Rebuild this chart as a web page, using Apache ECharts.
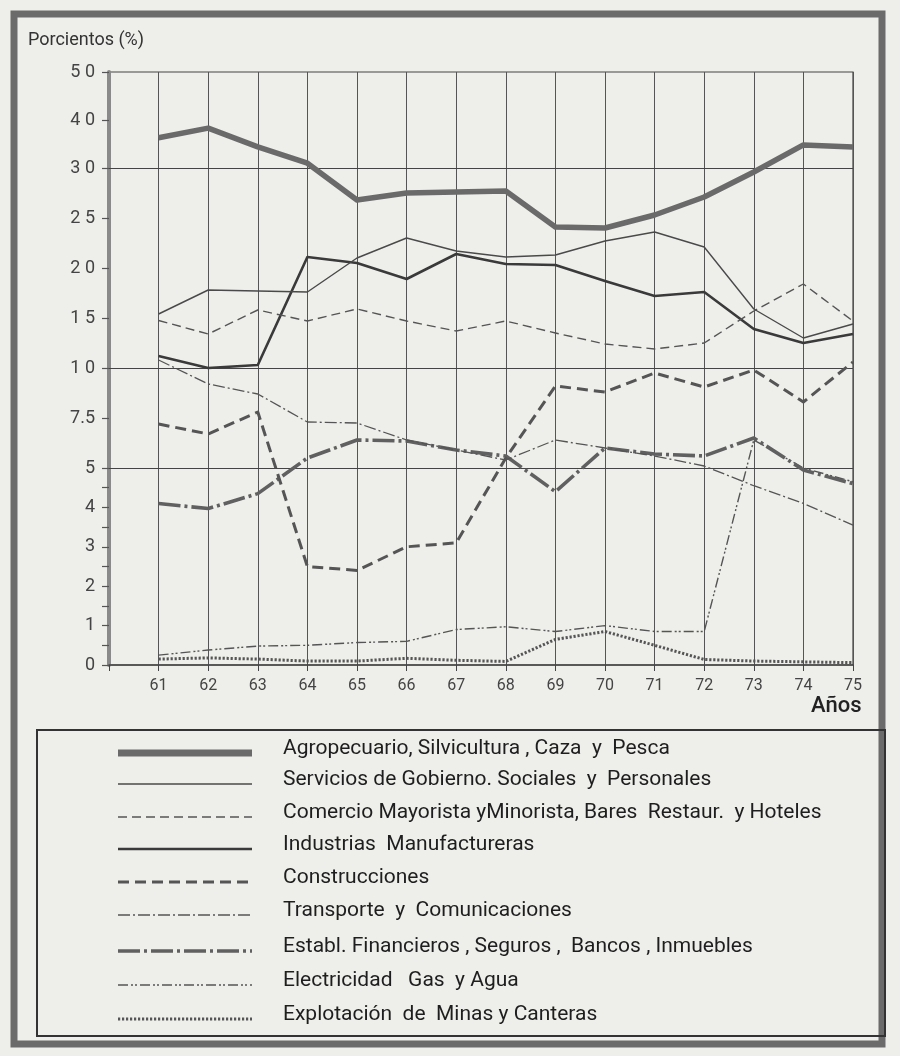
<!DOCTYPE html>
<html>
<head>
<meta charset="utf-8">
<script src="https://cdn.jsdelivr.net/npm/echarts@6/dist/echarts.min.js"></script>
<style>
html,body{margin:0;padding:0;background:#eeeeea;}
#chart{width:900px;height:1056px;}
</style>
</head>
<body>
<div id="chart"></div>
<script>
// ---- data (percent) ----
const years = [61,62,63,64,65,66,67,68,69,70,71,72,73,74,75];
const agropecuario   = [36.3,38.3,34.4,31.0,26.8,27.5,27.6,27.7,24.1,24.0,25.3,27.1,29.6,34.8,34.4];
const servicios      = [15.4,17.8,17.7,17.6,21.0,23.0,21.7,21.1,21.3,22.7,23.6,22.1,15.9,13.0,14.4];
const comercio       = [14.75,13.4,15.8,14.7,15.9,14.7,13.7,14.7,13.5,12.4,11.9,12.5,15.7,18.4,14.7];
const industrias     = [11.2,10.0,10.3,21.1,20.5,18.9,21.4,20.4,20.3,18.7,17.2,17.6,13.9,12.5,13.4];
const construcciones = [7.2,6.7,7.8,2.5,2.4,3.0,3.1,5.5,9.1,8.8,9.75,9.05,9.9,8.3,10.6];
const transporte     = [10.8,9.2,8.7,7.3,7.25,6.4,5.9,5.4,6.4,6.0,5.6,5.1,4.55,4.1,3.55];
const financieros    = [4.1,3.97,4.35,5.5,6.4,6.35,5.9,5.6,4.4,6.0,5.7,5.6,6.5,4.95,4.6];
const electricidad   = [0.25,0.38,0.48,0.5,0.57,0.6,0.9,0.97,0.85,1.0,0.85,0.85,6.4,5.0,4.65];
const minas          = [0.15,0.18,0.15,0.1,0.1,0.17,0.12,0.09,0.65,0.85,0.5,0.14,0.1,0.08,0.06];

const seriesNames = [
  'Agropecuario, Silvicultura , Caza  y  Pesca',
  'Servicios de Gobierno. Sociales  y  Personales',
  'Comercio Mayorista yMinorista, Bares  Restaur.  y Hoteles',
  'Industrias  Manufactureras',
  'Construcciones',
  'Transporte  y  Comunicaciones',
  'Establ. Financieros , Seguros ,  Bancos , Inmuebles',
  'Electricidad   Gas  y Agua',
  'Explotación  de  Minas y Canteras'
];
const yTickValues = [0,1,2,3,4,5,7.5,10,15,20,25,30,40,50];
const yTickLabels = ['0','1','2','3','4','5','7.5','1 0','1 5','2 0','2 5','3 0','4 0','5 0'];
const yMinorTicks = [0.5,1.5,2.5,3.5,4.5];
const gridLinesAt = [5,10,30];
const yTitle = 'Porcientos (%)';
const xTitle = 'Años';

// piecewise scale of the original (value -> axis position)
const scaleBreaks = [[0,0],[5,197],[10,297],[30,497],[50,593]];
function T(v){
  for(let i=1;i<scaleBreaks.length;i++){
    const a=scaleBreaks[i-1], b=scaleBreaks[i];
    if(v<=b[0]) return a[1]+(v-a[0])*(b[1]-a[1])/(b[0]-a[0]);
  }
  return scaleBreaks[scaleBreaks.length-1][1];
}

const allData = [agropecuario,servicios,comercio,industrias,construcciones,transporte,financieros,electricidad,minas];
const styles = [
  {color:'#6a6a6a', width:5.5, type:'solid'},
  {color:'#4a4a4a', width:1.4, type:'solid'},
  {color:'#555', width:1.4, type:[9,5]},
  {color:'#3a3a3a', width:2.6, type:'solid'},
  {color:'#555', width:3, type:[11,6]},
  {color:'#555', width:1.3, type:[12,3,2,3]},
  {color:'#606060', width:3.6, type:[22,4,3,4]},
  {color:'#555', width:1.4, type:[10,3,2,2,2,3]},
  {color:'#555', width:3, type:[2.2,1.8]}
];

const series = allData.map((arr,k)=>({
  name: seriesNames[k],
  type:'line',
  data: years.map((y,i)=>[y, T(arr[i])]),
  showSymbol:false,
  symbol:'none',
  lineStyle:{color:styles[k].color, width:styles[k].width, type:styles[k].type, cap:'butt', join:'round'},
  z: 10-k+3,
  silent:true
}));
series[0].markLine = {
  silent:true, symbol:'none', label:{show:false},
  lineStyle:{color:'#444', width:1.2, type:'solid'},
  data: gridLinesAt.map(v=>({yAxis:T(v)}))
};

// legend graphics
const legendRowY = [750,781,814,846,879,912,948,982,1016];
const graphic = [
  {type:'rect', shape:{x:14,y:14,width:868,height:1030}, style:{fill:null, stroke:'#6b6b6b', lineWidth:7}, z:-1},
  {type:'rect', shape:{x:37,y:730,width:848,height:306}, style:{fill:null, stroke:'#333', lineWidth:2}},
  {type:'text', left:28, top:31, style:{text:yTitle, font:'18px Roboto', fill:'#333'}},
  {type:'text', left:811, top:695, style:{text:xTitle, font:'500 22px Roboto', fill:'#222'}}
];
seriesNames.forEach((nm,k)=>{
  const yy = legendRowY[k];
  const st = styles[k];
  graphic.push({type:'line', shape:{x1:118,y1:yy+3,x2:252,y2:yy+3},
    style:{stroke:st.color, lineWidth:k===0?7:st.width, lineDash: Array.isArray(st.type)?st.type:null}});
  graphic.push({type:'text', left:283, top:yy-12, style:{text:nm, font:'21px Roboto', fill:'#1e1e1e'}});
});

const chart = echarts.init(document.getElementById('chart'), null, {renderer:'canvas'});
chart.setOption({
  animation:false,
  backgroundColor:'#eeeeea',
  grid:{left:109, right:47, top:72, bottom:391, show:true, borderColor:'#444', borderWidth:1.2, backgroundColor:'transparent'},
  xAxis:{
    type:'value', min:60, max:75, interval:1,
    axisLine:{lineStyle:{color:'#444', width:1.5}},
    axisTick:{show:true, length:6, lineStyle:{color:'#444'}},
    splitLine:{show:true, lineStyle:{color:'#555', width:1}},
    axisLabel:{color:'#444', fontSize:16, fontFamily:'Roboto', margin:13,
      formatter:v=> (v>=61 && v<=75) ? String(v) : ''}
  },
  yAxis:{
    type:'value', min:0, max:593,
    axisLine:{show:true, lineStyle:{color:'#8a8a8a', width:4}},
    axisTick:{show:true, length:7, lineStyle:{color:'#555', width:1.2},
      customValues: yTickValues.concat(yMinorTicks).map(T)},
    splitLine:{show:false},
    axisLabel:{color:'#444', fontSize:18, fontFamily:'Roboto', margin:14,
      customValues: yTickValues.map(T),
      formatter: v=>{
        for(let i=0;i<yTickValues.length;i++){ if(Math.abs(T(yTickValues[i])-v)<0.5) return yTickLabels[i]; }
        return '';
      }}
  },
  series: series,
  graphic: graphic
});
</script>
</body>
</html>
